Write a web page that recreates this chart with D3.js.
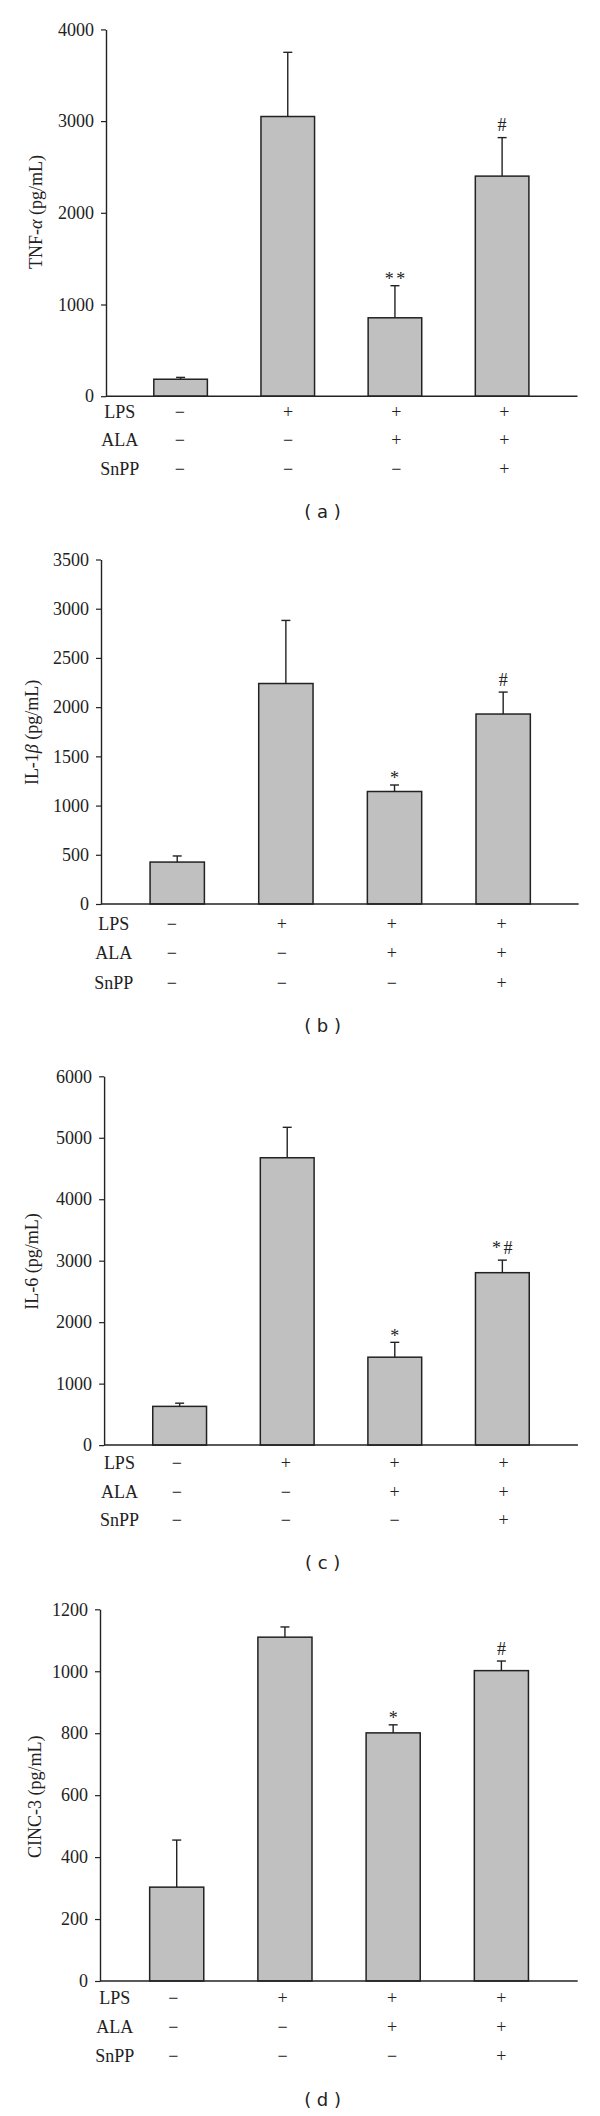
<!DOCTYPE html>
<html>
<head>
<meta charset="utf-8">
<script src="https://cdn.jsdelivr.net/npm/d3@7/dist/d3.min.js"></script>
<style>
  html, body { margin: 0; padding: 0; background: #fff; }
  svg { display: block; }
</style>
</head>
<body>
<svg id="chart" width="600" height="2116"></svg>
<script>
// ---------- DATA ----------
const groups = ["Control", "LPS", "LPS+ALA", "LPS+ALA+SnPP"];
const rowLabels = ["LPS", "ALA", "SnPP"];
const lpsSigns  = ["\u2212", "+", "+", "+"];
const alaSigns  = ["\u2212", "\u2212", "+", "+"];
const snppSigns = ["\u2212", "\u2212", "\u2212", "+"];

const tnfMeans  = [185, 3050, 855, 2400];
const tnfErrors = [20, 700, 350, 420];
const tnfMarks  = ["", "", "**", "#"];
const tnfTicks  = [0, 1000, 2000, 3000, 4000];

const il1Means  = [426, 2240, 1143, 1930];
const il1Errors = [62, 641, 66, 223];
const il1Marks  = ["", "", "*", "#"];
const il1Ticks  = [0, 500, 1000, 1500, 2000, 2500, 3000, 3500];

const il6Means  = [630, 4675, 1430, 2805];
const il6Errors = [52, 495, 242, 204];
const il6Marks  = ["", "", "*", "*#"];
const il6Ticks  = [0, 1000, 2000, 3000, 4000, 5000, 6000];

const cincMeans  = [303, 1110, 801, 1002];
const cincErrors = [152, 33, 26, 31];
const cincMarks  = ["", "", "*", "#"];
const cincTicks  = [0, 200, 400, 600, 800, 1000, 1200];

const captions = ["( a )", "( b )", "( c )", "( d )"];

// ---------- LAYOUT ----------
const panels = [
  { means: tnfMeans, errors: tnfErrors, marks: tnfMarks, ticks: tnfTicks, label: ["TNF-", "\u03B1", " (pg/mL)"],
    axisX: 106, axisEnd: 577.5, y0: 396.2, y1: 29.4, band: [127, 555.7], signs: [179.9, 504.4],
    rowY: [412.4, 440.2, 469], labelX: 119.8, ylabX: 35.2, ylabY: 212, capY: 513 },
  { means: il1Means, errors: il1Errors, marks: il1Marks, ticks: il1Ticks, label: ["IL-1", "\u03B2", " (pg/mL)"],
    axisX: 101, axisEnd: 578.6, y0: 904, y1: 559.5, band: [122.9, 557.5], signs: [171.8, 501.7],
    rowY: [924.3, 953, 982.8], labelX: 113.7, ylabX: 31.4, ylabY: 732.4, capY: 1027 },
  { means: il6Means, errors: il6Errors, marks: il6Marks, ticks: il6Ticks, label: ["IL-6 (pg/mL)", "", ""],
    axisX: 104.1, axisEnd: 577.9, y0: 1445.1, y1: 1076.3, band: [125.85, 556.15], signs: [176.8, 503.6],
    rowY: [1462.7, 1491.5, 1520.2], labelX: 119.4, ylabX: 31.4, ylabY: 1261.6, capY: 1564 },
  { means: cincMeans, errors: cincErrors, marks: cincMarks, ticks: cincTicks, label: ["CINC-3 (pg/mL)", "", ""],
    axisX: 100, axisEnd: 577.7, y0: 1981, y1: 1609.3, band: [122.6, 555.5], signs: [173.4, 501.3],
    rowY: [1998.3, 2027.3, 2056], labelX: 114.8, ylabX: 34.4, ylabY: 1796.7, capY: 2100.8 }
];

const serif = "'Liberation Serif', 'Times New Roman', serif";
const ink = "#222";
const svg = d3.select("#chart");
svg.append("rect").attr("width", 600).attr("height", 2116).attr("fill", "#fff");

panels.forEach((p, pi) => {
  const g = svg.append("g");
  const top = p.ticks[p.ticks.length - 1];
  const y = d3.scaleLinear().domain([0, top]).range([p.y0, p.y1]);
  const x = d3.scaleBand().domain(groups).range(p.band).paddingInner(0.5).paddingOuter(0.25);
  const sx = d3.scalePoint().domain(groups).range(p.signs);

  // bars
  g.selectAll("rect.bar").data(groups).join("rect")
    .attr("class", "bar")
    .attr("x", d => x(d))
    .attr("width", x.bandwidth())
    .attr("y", (d, i) => y(p.means[i]))
    .attr("height", (d, i) => y(0) - y(p.means[i]))
    .attr("fill", "#c0c0c0")
    .attr("stroke", ink)
    .attr("stroke-width", 1.5);

  // error bars
  const cx = d => x(d) + x.bandwidth() / 2;
  g.selectAll("line.err").data(groups).join("line")
    .attr("x1", cx).attr("x2", cx)
    .attr("y1", (d, i) => y(p.means[i]))
    .attr("y2", (d, i) => y(p.means[i] + p.errors[i]))
    .attr("stroke", ink).attr("stroke-width", 1.4);
  g.selectAll("line.cap").data(groups).join("line")
    .attr("x1", d => cx(d) - 4.5).attr("x2", d => cx(d) + 4.5)
    .attr("y1", (d, i) => y(p.means[i] + p.errors[i]))
    .attr("y2", (d, i) => y(p.means[i] + p.errors[i]))
    .attr("stroke", ink).attr("stroke-width", 1.4);

  // significance marks
  g.selectAll("text.mark").data(groups).join("text")
    .attr("x", (d, i) => cx(d) + (p.marks[i].length > 1 ? 1.25 : 0))
    .attr("y", (d, i) => {
      const t = y(p.means[i] + p.errors[i]);
      return p.marks[i].includes("#") ? t - 6.5 : t - 0.5;
    })
    .attr("text-anchor", "middle")
    .attr("letter-spacing", (d, i) => p.marks[i].length > 1 ? 2.5 : 0)
    .attr("font-family", serif).attr("font-size", 18).attr("fill", ink)
    .text((d, i) => p.marks[i]);

  // y axis
  const ax = g.append("g")
    .attr("transform", `translate(${p.axisX},0)`)
    .call(d3.axisLeft(y).tickValues(p.ticks).tickSize(5).tickPadding(7).tickSizeOuter(0).tickFormat(d3.format("d")));
  ax.select(".domain").attr("stroke", ink).attr("stroke-width", 1.4);
  ax.selectAll(".tick line").attr("stroke", ink).attr("stroke-width", 1.2);
  ax.selectAll(".tick text").attr("font-family", serif).attr("font-size", 18).attr("fill", ink);

  // x baseline
  g.append("line")
    .attr("x1", p.axisX).attr("x2", p.axisEnd)
    .attr("y1", y(0)).attr("y2", y(0))
    .attr("stroke", ink).attr("stroke-width", 1.5);

  // y axis label
  const yl = g.append("text")
    .attr("transform", `translate(${p.ylabX},${p.ylabY}) rotate(-90)`)
    .attr("text-anchor", "middle")
    .attr("dy", "0.35em")
    .attr("font-family", serif).attr("font-size", 18).attr("fill", ink);
  yl.append("tspan").text(p.label[0]);
  if (p.label[1]) yl.append("tspan").attr("font-style", "italic").text(p.label[1]);
  if (p.label[2]) yl.append("tspan").text(p.label[2]);

  // treatment table
  const signRows = [lpsSigns, alaSigns, snppSigns];
  rowLabels.forEach((lab, ri) => {
    g.append("text")
      .attr("x", p.labelX).attr("y", p.rowY[ri] + 6)
      .attr("text-anchor", "middle")
      .attr("font-family", serif).attr("font-size", 18).attr("fill", ink)
      .text(lab);
    g.selectAll("text.sign" + ri).data(groups).join("text")
      .attr("class", "sign" + ri)
      .attr("x", d => sx(d))
      .attr("y", p.rowY[ri] + 6)
      .attr("text-anchor", "middle")
      .attr("font-family", serif).attr("font-size", 18).attr("fill", ink)
      .text((d, i) => signRows[ri][i]);
  });

  // caption
  g.append("text")
    .attr("x", 322.6).attr("y", p.capY + 5)
    .attr("text-anchor", "middle")
    .attr("font-family", "'DejaVu Sans', Verdana, sans-serif").attr("font-size", 18).attr("fill", ink)
    .text(captions[pi]);
});
</script>
</body>
</html>
